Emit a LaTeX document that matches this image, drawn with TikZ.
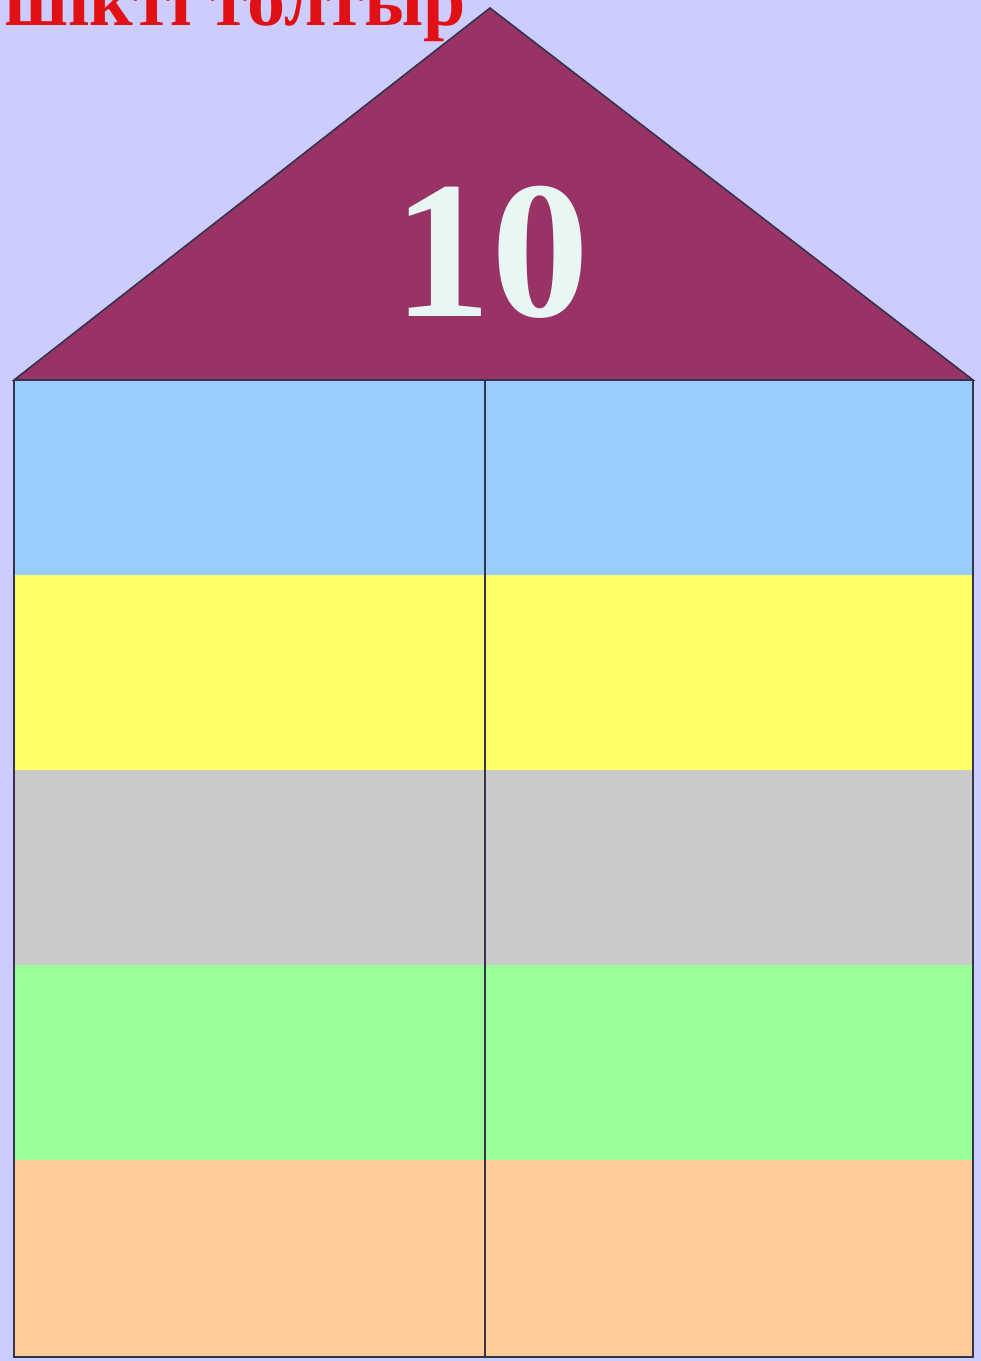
\documentclass[tikz,border=0pt]{standalone}
\usepackage{fontspec}
\setmainfont{Liberation Serif}
\begin{document}
\begin{tikzpicture}[x=1pt,y=-1pt,
  outline/.style={draw=linecol,line width=1.6pt,line join=miter}]
\definecolor{bg}{HTML}{CCCCFF}
\definecolor{roof}{HTML}{993366}
\definecolor{cblue}{HTML}{99CCFF}
\definecolor{cyellow}{HTML}{FFFF66}
\definecolor{cgray}{HTML}{CACACA}
\definecolor{cgreen}{HTML}{99FF99}
\definecolor{corange}{HTML}{FFCC99}
\definecolor{numcol}{HTML}{E8F6F4}
\definecolor{titlered}{HTML}{E01015}
\definecolor{linecol}{HTML}{33334A}
\useasboundingbox (0,0) rectangle (981,1361);
\clip (0,0) rectangle (981,1361);
\fill[bg] (0,0) rectangle (981,1361);
% bands
\fill[cblue]   (14,380)  rectangle (973,575);
\fill[cyellow] (14,575)  rectangle (973,770);
\fill[cgray]   (14,770)  rectangle (973,965);
\fill[cgreen]  (14,965)  rectangle (973,1160);
\fill[corange] (14,1160) rectangle (973,1357);
% roof
\coordinate (apex) at (490,8);
\coordinate (rl) at (14,380);
\coordinate (rr) at (973,380);
\filldraw[fill=roof,outline] (apex) -- (rl) -- (rr) -- cycle;
% body outline and divider
\coordinate (bl) at (14,1357);
\coordinate (br) at (973,1357);
\coordinate (dt) at (485,380);
\coordinate (db) at (485,1357);
\draw[outline] (rl) -- (bl) -- (br) -- (rr);
\draw[outline] (dt) -- (db);
% number
\node[text=numcol,font=\fontsize{196}{196}\selectfont\bfseries,inner sep=0pt] (num) at (491,252) {10};
% title (cut off at the top, as in the reference)
\node[text=titlered,font=\fontsize{76}{76}\selectfont\bfseries,anchor=base east,inner sep=0pt] (title) at (466,25) {шікті толтыр};
\end{tikzpicture}
\end{document}
